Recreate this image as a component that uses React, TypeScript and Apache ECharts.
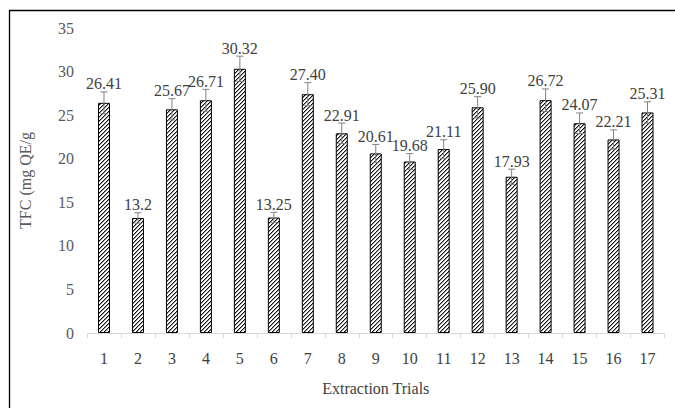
import React, { useEffect, useRef } from "react";
import * as echarts from "echarts";

const categories = ["1","2","3","4","5","6","7","8","9","10","11","12","13","14","15","16","17"];
const values = [26.41, 13.2, 25.67, 26.71, 30.32, 13.25, 27.4, 22.91, 20.61, 19.68, 21.11, 25.9, 17.93, 26.72, 24.07, 22.21, 25.31];
const valueLabels = ["26.41","13.2","25.67","26.71","30.32","13.25","27.40","22.91","20.61","19.68","21.11","25.90","17.93","26.72","24.07","22.21","25.31"];
const errors = [1.25, 0.6, 1.22, 1.25, 1.45, 0.6, 1.33, 1.18, 1.03, 0.91, 1.06, 1.22, 0.87, 1.29, 1.18, 1.1, 1.22];
const yTicks = { min: 0, max: 35, interval: 5 };

const FONT = "'Liberation Serif', 'Times New Roman', serif";

function makeHatch(): HTMLCanvasElement {
  const c = document.createElement("canvas");
  c.width = 4;
  c.height = 4;
  const ctx = c.getContext("2d")!;
  ctx.fillStyle = "#fff";
  ctx.fillRect(0, 0, 4, 4);
  ctx.fillStyle = "#9a9a9a";
  for (let i = 0; i < 4; i++) ctx.fillRect(i, (4 - i) % 4, 1, 1);
  ctx.fillStyle = "#111";
  for (let i = 0; i < 4; i++) ctx.fillRect(i, 3 - i, 1, 1);
  return c;
}

export default function App() {
  const ref = useRef<HTMLDivElement>(null);
  useEffect(() => {
    document.body.style.margin = "0";
    const chart = echarts.init(ref.current!, null, { renderer: "svg" });
    const hatch = makeHatch();
    chart.setOption({
      animation: false,
      backgroundColor: "#fff",
      grid: { left: 87, right: 10.5, top: 28, bottom: 75, containLabel: false },
      xAxis: {
        type: "category",
        data: categories,
        boundaryGap: true,
        name: "Extraction Trials",
        nameLocation: "middle",
        nameGap: 47,
        nameTextStyle: { fontFamily: FONT, fontSize: 16, color: "#404040" },
        axisLine: { lineStyle: { color: "#d9d9d9", width: 1 } },
        axisTick: { show: true, length: 5, lineStyle: { color: "#d9d9d9" } },
        axisLabel: { fontFamily: FONT, fontSize: 16, color: "#404040", margin: 17 },
      },
      yAxis: {
        type: "value",
        min: yTicks.min,
        max: yTicks.max,
        interval: yTicks.interval,
        name: "TFC (mg QE/g",
        nameLocation: "middle",
        nameGap: 54,
        nameRotate: 90,
        nameTextStyle: { fontFamily: FONT, fontSize: 16, color: "#595959" },
        axisLine: { show: false },
        axisTick: { show: false },
        splitLine: { show: false },
        axisLabel: { fontFamily: FONT, fontSize: 16, color: "#595959", margin: 13 },
      },
      series: [
        {
          type: "bar",
          data: values,
          barWidth: 12,
          itemStyle: {
            color: { image: hatch, repeat: "repeat" },
            borderColor: "#000",
            borderWidth: 1,
          },
        },
        {
          type: "custom",
          data: values.map((v, i) => [i, v, errors[i]]),
          z: 10,
          renderItem: (params: any, api: any) => {
            const i = api.value(0);
            const v = api.value(1);
            const e = api.value(2);
            const top = api.coord([i, v + e]);
            const bot = api.coord([i, v - e]);
            const stroke = "#808080";
            return {
              type: "group",
              children: [
                { type: "line", shape: { x1: top[0], y1: top[1], x2: bot[0], y2: bot[1] }, style: { stroke, lineWidth: 1 } },
                { type: "line", shape: { x1: top[0] - 3.5, y1: top[1], x2: top[0] + 3.5, y2: top[1] }, style: { stroke, lineWidth: 1 } },
                { type: "line", shape: { x1: bot[0] - 3.5, y1: bot[1], x2: bot[0] + 3.5, y2: bot[1] }, style: { stroke, lineWidth: 1 } },
                {
                  type: "text",
                  x: top[0],
                  y: top[1] - 8,
                  style: {
                    text: valueLabels[params.dataIndex],
                    textAlign: "center",
                    textVerticalAlign: "middle",
                    fontFamily: FONT,
                    fontSize: 16,
                    fill: "#404040",
                  },
                },
              ],
            };
          },
        },
      ],
      graphic: [
        { type: "line", shape: { x1: 9, y1: 10.5, x2: 675, y2: 10.5 }, style: { stroke: "#000", lineWidth: 1.3 } },
        { type: "line", shape: { x1: 9.5, y1: 10, x2: 9.5, y2: 408 }, style: { stroke: "#000", lineWidth: 1.3 } },
      ],
    });
    return () => chart.dispose();
  }, []);
  return <div ref={ref} style={{ width: 675, height: 408 }} />;
}
